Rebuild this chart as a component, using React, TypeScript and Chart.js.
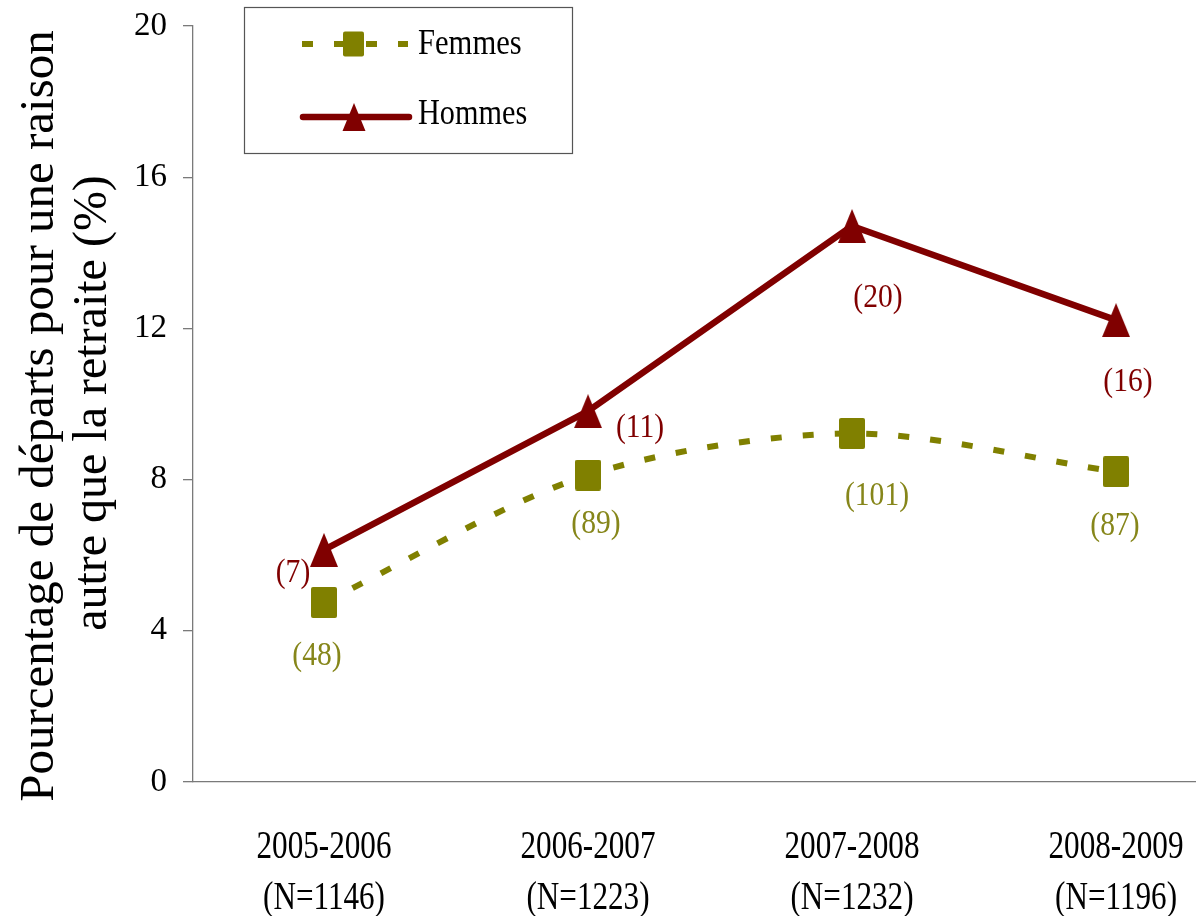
import React, { useEffect, useRef } from "react";
import { Chart, registerables } from "chart.js";

Chart.register(...registerables);

// ---- data ----
const categories = ["2005-2006", "2006-2007", "2007-2008", "2008-2009"];
const sampleSizes = [1146, 1223, 1232, 1196];
const femmesValues = [4.75, 8.12, 9.22, 8.21];
const hommesValues = [6.14, 9.81, 14.71, 12.22];
const femmesCounts = [48, 89, 101, 87];
const hommesCounts = [7, 11, 20, 16];
const yTickValues = [0, 4, 8, 12, 16, 20];
const seriesNames = ["Femmes", "Hommes"];
const yTitleLines = ["Pourcentage de départs pour une raison", "autre que la retraite (%)"];

// ---- styles ----
const OLIVE = "#808000";
const OLIVE_TEXT = "#86861a";
const MAROON = "#800000";
const AXIS = "#7a7a7a";
const FONT = "'Liberation Serif', 'Times New Roman', serif";

// label offsets (pixels) relative to each point
const femmesLabelOffsets = [
  [-7, 54],
  [8, 49],
  [25, 63],
  [-1, 54],
];
const hommesLabelOffsets = [
  [-31, 23],
  [52, 17],
  [26, 72],
  [12, 62],
];

function makeSquare(w: number, h: number, color: string) {
  const c = document.createElement("canvas");
  c.width = w;
  c.height = h;
  const g = c.getContext("2d")!;
  g.fillStyle = color;
  g.beginPath();
  (g as any).roundRect(0, 0, w, h, 2);
  g.fill();
  return c;
}

function makeTriangle(w: number, h: number, color: string) {
  const c = document.createElement("canvas");
  c.width = w;
  c.height = h;
  const g = c.getContext("2d")!;
  g.fillStyle = color;
  g.beginPath();
  g.moveTo(w / 2, 0);
  g.lineTo(w, h);
  g.lineTo(0, h);
  g.closePath();
  g.fill();
  return c;
}

function drawText(
  ctx: CanvasRenderingContext2D,
  text: string,
  x: number,
  y: number,
  size: number,
  color: string,
  sx: number,
  align: CanvasTextAlign = "center"
) {
  ctx.save();
  ctx.translate(x, y);
  ctx.scale(sx, 1);
  ctx.font = `${size}px ${FONT}`;
  ctx.fillStyle = color;
  ctx.textAlign = align;
  ctx.textBaseline = "alphabetic";
  ctx.fillText(text, 0, 0);
  ctx.restore();
}

const decorPlugin = {
  id: "decor",
  afterDatasetsDraw(chart: any) {
    const ctx: CanvasRenderingContext2D = chart.ctx;
    const xs = chart.scales.x;
    const ys = chart.scales.y;
    const area = chart.chartArea;

    // data labels
    femmesValues.forEach((v, i) => {
      const px = xs.getPixelForValue(i) + femmesLabelOffsets[i][0];
      const py = ys.getPixelForValue(v) + femmesLabelOffsets[i][1] + 9;
      drawText(ctx, `(${femmesCounts[i]})`, px, py, 34, OLIVE_TEXT, 0.87);
    });
    hommesValues.forEach((v, i) => {
      const px = xs.getPixelForValue(i) + hommesLabelOffsets[i][0];
      const py = ys.getPixelForValue(v) + hommesLabelOffsets[i][1] + 9;
      drawText(ctx, `(${hommesCounts[i]})`, px, py, 34, MAROON, 0.87);
    });

    // x category labels
    categories.forEach((c, i) => {
      const px = xs.getPixelForValue(i);
      drawText(ctx, c, px, area.bottom + 76, 41, "#000", 0.76);
      drawText(ctx, `(N=${sampleSizes[i]})`, px, area.bottom + 127, 41, "#000", 0.76);
    });

    // y title
    ctx.save();
    ctx.font = `49px ${FONT}`;
    ctx.fillStyle = "#000";
    ctx.textAlign = "center";
    ctx.textBaseline = "alphabetic";
    ctx.translate(53, 416);
    ctx.rotate(-Math.PI / 2);
    ctx.fillText(yTitleLines[0], 0, 0);
    ctx.restore();
    ctx.save();
    ctx.font = `48px ${FONT}`;
    ctx.fillStyle = "#000";
    ctx.textAlign = "center";
    ctx.textBaseline = "alphabetic";
    ctx.translate(106, 403);
    ctx.rotate(-Math.PI / 2);
    ctx.fillText(yTitleLines[1], 0, 0);
    ctx.restore();

    // legend
    ctx.save();
    ctx.fillStyle = "#fff";
    ctx.fillRect(244.5, 7.5, 328, 146);
    ctx.strokeStyle = "#555";
    ctx.lineWidth = 1.2;
    ctx.strokeRect(244.5, 7.5, 328, 146);

    // Femmes
    ctx.strokeStyle = OLIVE;
    ctx.lineWidth = 6;
    ctx.lineCap = "butt";
    ctx.setLineDash([11, 21]);
    ctx.beginPath();
    ctx.moveTo(302, 44);
    ctx.lineTo(408, 44);
    ctx.stroke();
    ctx.setLineDash([]);
    ctx.fillStyle = OLIVE;
    ctx.beginPath();
    (ctx as any).roundRect(343, 31.5, 21, 25, 2);
    ctx.fill();

    // Hommes
    ctx.strokeStyle = MAROON;
    ctx.lineWidth = 6.5;
    ctx.lineCap = "round";
    ctx.beginPath();
    ctx.moveTo(303, 117);
    ctx.lineTo(409, 117);
    ctx.stroke();
    ctx.fillStyle = MAROON;
    ctx.beginPath();
    ctx.moveTo(354, 103);
    ctx.lineTo(365.5, 131);
    ctx.lineTo(342.5, 131);
    ctx.closePath();
    ctx.fill();
    ctx.restore();

    drawText(ctx, seriesNames[0], 418, 54, 36, "#000", 0.85, "left");
    drawText(ctx, seriesNames[1], 418, 124, 36, "#000", 0.84, "left");
  },
};

export default function App() {
  const ref = useRef<HTMLCanvasElement>(null);

  useEffect(() => {
    if (!ref.current) return;
    const squareImg = makeSquare(26, 31, OLIVE);
    const triImg = makeTriangle(28, 34, MAROON);

    const chart = new Chart(ref.current, {
      type: "line",
      data: {
        datasets: [
          {
            label: seriesNames[1],
            data: hommesValues.map((v, i) => ({ x: i, y: v })),
            borderColor: MAROON,
            backgroundColor: MAROON,
            borderWidth: 6.5,
            tension: 0,
            pointStyle: triImg as any,
            pointRadius: 14,
            borderJoinStyle: "round",
          },
          {
            label: seriesNames[0],
            data: femmesValues.map((v, i) => ({ x: i, y: v })),
            borderColor: OLIVE,
            backgroundColor: OLIVE,
            borderWidth: 6,
            borderDash: [11, 21],
            borderCapStyle: "butt",
            tension: 0.3,
            pointStyle: squareImg as any,
            pointRadius: 14,
          },
        ],
      },
      options: {
        animation: false,
        responsive: true,
        maintainAspectRatio: false,
        layout: { autoPadding: false, padding: { top: 26, left: 0, right: 0, bottom: 0 } },
        plugins: {
          legend: { display: false },
          tooltip: { enabled: false },
        },
        scales: {
          x: {
            type: "linear",
            min: -0.4962,
            max: 3.303,
            afterBuildTicks: (s: any) => {
              s.ticks = categories.map((_, i) => ({ value: i }));
            },
            afterFit: (s: any) => {
              s.height = 134;
              s.paddingLeft = 0;
              s.paddingRight = 0;
            },
            ticks: { display: false },
            grid: { display: false },
            border: { display: true, color: AXIS, width: 1.3 },
          },
          y: {
            min: 0,
            max: 20,
            afterBuildTicks: (s: any) => {
              s.ticks = yTickValues.map((v) => ({ value: v }));
            },
            afterFit: (s: any) => {
              s.width = 193;
              s.paddingTop = 0;
              s.paddingBottom = 0;
            },
            ticks: {
              font: { family: FONT, size: 33 },
              color: "#000",
              padding: 16,
            },
            grid: {
              display: true,
              drawOnChartArea: false,
              drawTicks: true,
              tickLength: 10,
              color: AXIS,
              lineWidth: 1.3,
            },
            border: { display: true, color: AXIS, width: 1.3 },
          },
        },
      },
      plugins: [decorPlugin],
    });
    return () => chart.destroy();
  }, []);

  return (
    <div style={{ position: "fixed", left: 0, top: 0, width: 1196, height: 916, background: "#fff" }}>
      <canvas ref={ref} />
    </div>
  );
}
